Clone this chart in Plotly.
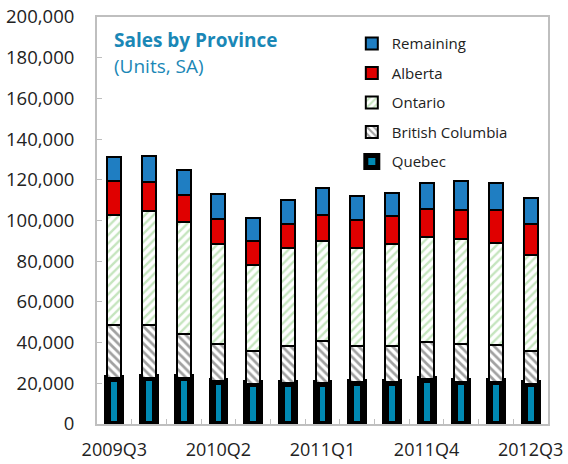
import plotly.graph_objects as go

quarters = ["2009Q3", "2009Q4", "2010Q1", "2010Q2", "2010Q3", "2010Q4", "2011Q1",
            "2011Q2", "2011Q3", "2011Q4", "2012Q1", "2012Q2", "2012Q3"]
tick_labels = ["2009Q3", "", "", "2010Q2", "", "", "2011Q1", "", "", "2011Q4", "", "", "2012Q3"]

quebec = [22400, 22700, 22700, 21000, 19900, 20000, 20100, 20400, 20400, 21900, 20700, 20800, 19900]
british_columbia = [26200, 25900, 21400, 18500, 15800, 18500, 20900, 18100, 17900, 18400, 18800, 17900, 15800]
ontario = [54100, 56100, 55200, 48800, 42600, 47800, 49100, 48000, 50000, 51600, 51200, 50400, 47200]
alberta = [16700, 14400, 13200, 12600, 11600, 12000, 12600, 13600, 13700, 13600, 14600, 16200, 15200]
remaining = [11600, 12800, 12300, 12100, 11300, 11800, 13100, 11900, 11700, 12800, 14000, 13000, 13100]

FONT = "Open Sans"
fig = go.Figure()

fig.add_trace(go.Bar(
    x=quarters, y=quebec, name="Quebec", legendgroup="q", legendrank=5, width=0.37,
    marker=dict(color="#0089B3", line=dict(color="black", width=7)),
))
fig.add_trace(go.Bar(
    x=quarters, y=british_columbia, name="British Columbia", legendgroup="bc", legendrank=4, width=0.40,
    marker=dict(color="white", line=dict(color="black", width=2),
                pattern=dict(shape="\\", fgcolor="#444444", bgcolor="white", size=6, solidity=0.45)),
))
fig.add_trace(go.Bar(
    x=quarters, y=ontario, name="Ontario", legendgroup="on", legendrank=3, width=0.40,
    marker=dict(color="white", line=dict(color="black", width=2),
                pattern=dict(shape="/", fgcolor="#8CCB7E", bgcolor="white", size=6, solidity=0.4)),
))
fig.add_trace(go.Bar(
    x=quarters, y=alberta, name="Alberta", legendgroup="ab", legendrank=2, width=0.40,
    marker=dict(color="#E00000", line=dict(color="black", width=2)),
))
fig.add_trace(go.Bar(
    x=quarters, y=remaining, name="Remaining", legendgroup="rem", legendrank=1, width=0.40,
    marker=dict(color="#1F7EC2", line=dict(color="black", width=2)),
))

fig.update_layout(
    width=568, height=464,
    barmode="stack",
    paper_bgcolor="white", plot_bgcolor="white",
    margin=dict(l=97, r=20, t=17, b=40),
    font=dict(family=FONT, size=19, color="#222222"),
    legend=dict(
        x=0.565, y=0.975, xanchor="left", yanchor="top",
        traceorder="grouped", tracegroupgap=7,
        font=dict(family=FONT, size=15, color="#222222"),
        bgcolor="rgba(0,0,0,0)", itemwidth=30,
    ),
    xaxis=dict(
        type="category", tickmode="array", tickvals=quarters, ticktext=tick_labels,
        tickson="boundaries", ticks="inside", ticklen=5, tickcolor="#BFBFBF",
        showline=True, linecolor="#BFBFBF", linewidth=2, mirror=True,
        showgrid=False, tickangle=0, tickfont=dict(size=18, family=FONT),
        automargin=False, ticklabelstandoff=8,
    ),
    yaxis=dict(
        range=[0, 200000], dtick=20000, tickformat=",",
        ticks="inside", ticklen=5, tickcolor="#BFBFBF",
        showline=True, linecolor="#BFBFBF", linewidth=2, mirror=True,
        showgrid=False, zeroline=False, tickfont=dict(size=18.5, family=FONT),
        automargin=False, ticklabelstandoff=17,
    ),
    annotations=[
        dict(text="<b>Sales by Province</b>", xref="paper", yref="paper", x=0.033, y=0.943,
             xanchor="left", yanchor="middle", showarrow=False,
             font=dict(family=FONT, size=19, color="#1A87B6")),
        dict(text="(Units, SA)", xref="paper", yref="paper", x=0.033, y=0.88,
             xanchor="left", yanchor="middle", showarrow=False,
             font=dict(family=FONT, size=19, color="#1A87B6")),
    ],
)

fig.write_html("out.html", config={"displayModeBar": False},
               post_script="document.body.style.margin='0';")
